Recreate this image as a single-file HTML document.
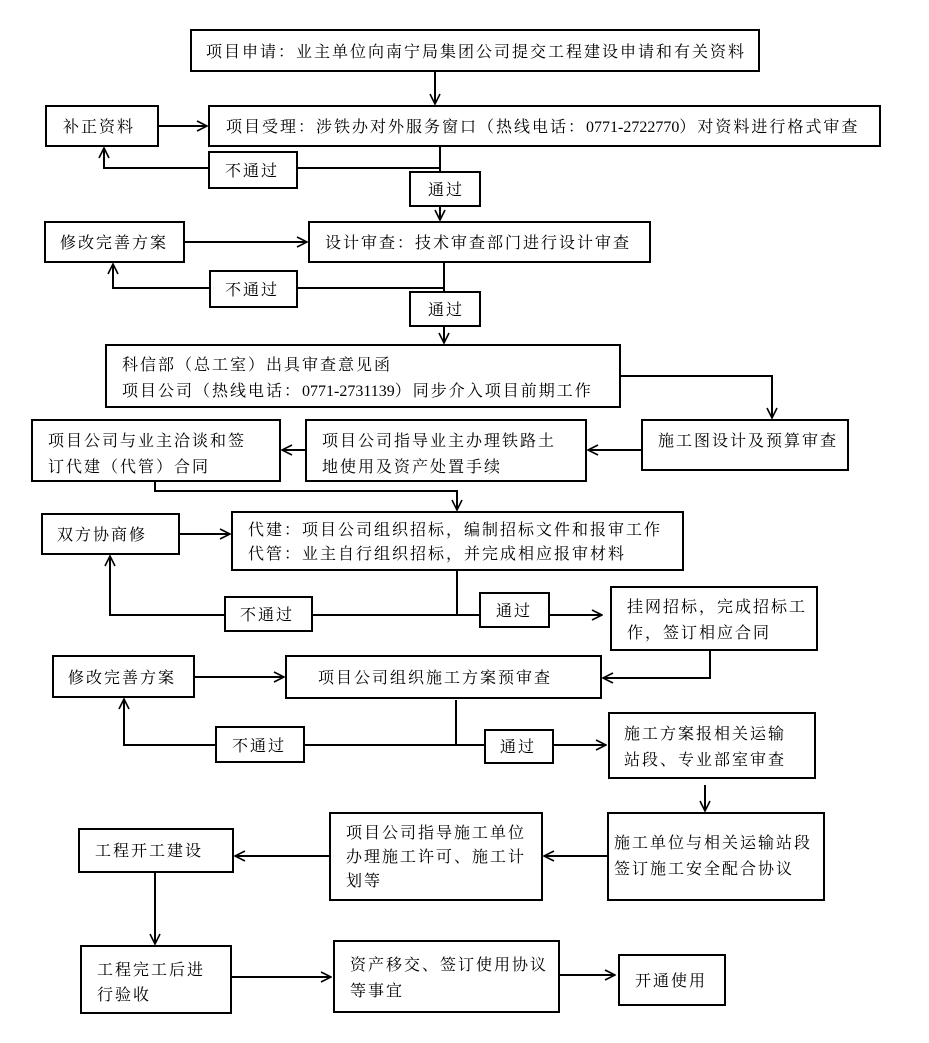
<!DOCTYPE html>
<html><head><meta charset="utf-8"><style>
html,body{margin:0;padding:0;background:#fff;}
svg{display:block;}
text{font-family:"Liberation Serif","Noto Serif CJK SC",serif;font-size:16px;fill:#000;letter-spacing:2px;}
tspan.d{letter-spacing:0px;}
</style></head><body>
<svg width="929" height="1043" viewBox="0 0 929 1043" xmlns="http://www.w3.org/2000/svg">
<defs>
<marker id="a" viewBox="0 0 12 12" refX="11" refY="6" markerWidth="12" markerHeight="12" markerUnits="userSpaceOnUse" orient="auto">
<polyline points="1,1 11,6 1,11" fill="none" stroke="#000" stroke-width="1.6"/>
</marker>
</defs>
<g fill="#fff" stroke="#000" stroke-width="2">
<rect x="191" y="30" width="568" height="41"/>
<rect x="46" y="106" width="112" height="40"/>
<rect x="209" y="106" width="671" height="40"/>
<rect x="209" y="152" width="88" height="36"/>
<rect x="410" y="172" width="70" height="34"/>
<rect x="45" y="222" width="139" height="40"/>
<rect x="309" y="222" width="341" height="40"/>
<rect x="210" y="271" width="87" height="36"/>
<rect x="410" y="292" width="70" height="34"/>
<rect x="106" y="345" width="514" height="62"/>
<rect x="642" y="420" width="206" height="50"/>
<rect x="306" y="420" width="280" height="61"/>
<rect x="32" y="420" width="248" height="61"/>
<rect x="232" y="512" width="451" height="58"/>
<rect x="42" y="514" width="137" height="40"/>
<rect x="225" y="597" width="87" height="34"/>
<rect x="480" y="593" width="69" height="34"/>
<rect x="611" y="587" width="206" height="63"/>
<rect x="53" y="656" width="141" height="41"/>
<rect x="286" y="656" width="315" height="42"/>
<rect x="216" y="727" width="88" height="35"/>
<rect x="485" y="730" width="68" height="33"/>
<rect x="609" y="713" width="206" height="65"/>
<rect x="608" y="813" width="216" height="87"/>
<rect x="330" y="813" width="212" height="87"/>
<rect x="79" y="829" width="154" height="43"/>
<rect x="81" y="946" width="150" height="67"/>
<rect x="334" y="941" width="225" height="71"/>
<rect x="619" y="955" width="106" height="50"/>
</g>
<g fill="none" stroke="#000" stroke-width="2">
<line x1="435" y1="71" x2="435" y2="104" marker-end="url(#a)"/>
<line x1="158" y1="126" x2="207" y2="126" marker-end="url(#a)"/>
<polyline points="440,146 440,168 297,168"/>
<polyline points="209,168 104,168 104,148" marker-end="url(#a)"/>
<line x1="440" y1="168" x2="440" y2="172"/>
<line x1="440" y1="206" x2="440" y2="220" marker-end="url(#a)"/>
<line x1="184" y1="242" x2="307" y2="242" marker-end="url(#a)"/>
<polyline points="444,262 444,288 297,288"/>
<polyline points="210,288 113,288 113,264" marker-end="url(#a)"/>
<line x1="444" y1="288" x2="444" y2="292"/>
<line x1="444" y1="326" x2="444" y2="343" marker-end="url(#a)"/>
<polyline points="620,376 772,376 772,418" marker-end="url(#a)"/>
<line x1="642" y1="450" x2="588" y2="450" marker-end="url(#a)"/>
<line x1="306" y1="450" x2="282" y2="450" marker-end="url(#a)"/>
<polyline points="155,481 155,491 457,491 457,510" marker-end="url(#a)"/>
<line x1="179" y1="534" x2="230" y2="534" marker-end="url(#a)"/>
<polyline points="457,570 457,615 312,615"/>
<polyline points="225,615 110,615 110,556" marker-end="url(#a)"/>
<line x1="457" y1="615" x2="480" y2="615"/>
<line x1="549" y1="615" x2="602" y2="615" marker-end="url(#a)"/>
<polyline points="710,650 710,678 603,678" marker-end="url(#a)"/>
<line x1="194" y1="677" x2="284" y2="677" marker-end="url(#a)"/>
<polyline points="456,700 456,745 304,745"/>
<polyline points="216,745 124,745 124,699" marker-end="url(#a)"/>
<line x1="456" y1="745" x2="485" y2="745"/>
<line x1="553" y1="745" x2="606" y2="745" marker-end="url(#a)"/>
<line x1="705" y1="785" x2="705" y2="811" marker-end="url(#a)"/>
<line x1="608" y1="856" x2="544" y2="856" marker-end="url(#a)"/>
<line x1="330" y1="856" x2="235" y2="856" marker-end="url(#a)"/>
<line x1="155" y1="872" x2="155" y2="944" marker-end="url(#a)"/>
<line x1="231" y1="977" x2="331" y2="977" marker-end="url(#a)"/>
<line x1="559" y1="975" x2="615" y2="975" marker-end="url(#a)"/>
</g>
<g>
<text x="206" y="57">项目申请：业主单位向南宁局集团公司提交工程建设申请和有关资料</text>
<text x="63" y="132">补正资料</text>
<text x="226" y="132">项目受理：涉铁办对外服务窗口（热线电话：<tspan class="d">0771-2722770</tspan>）对资料进行格式审查</text>
<text x="225" y="176">不通过</text>
<text x="428" y="195">通过</text>
<text x="60" y="248">修改完善方案</text>
<text x="325" y="248">设计审查：技术审查部门进行设计审查</text>
<text x="225" y="295">不通过</text>
<text x="428" y="315">通过</text>
<text x="122" y="370">科信部（总工室）出具审查意见函</text>
<text x="122" y="396">项目公司（热线电话：<tspan class="d">0771-2731139</tspan>）同步介入项目前期工作</text>
<text x="658" y="446">施工图设计及预算审查</text>
<text x="322" y="446">项目公司指导业主办理铁路土</text>
<text x="322" y="472">地使用及资产处置手续</text>
<text x="48" y="446">项目公司与业主洽谈和签</text>
<text x="48" y="472">订代建（代管）合同</text>
<text x="248" y="535">代建：项目公司组织招标，编制招标文件和报审工作</text>
<text x="248" y="559">代管：业主自行组织招标，并完成相应报审材料</text>
<text x="57" y="540">双方协商修</text>
<text x="240" y="620">不通过</text>
<text x="496" y="616">通过</text>
<text x="627" y="612">挂网招标，完成招标工</text>
<text x="627" y="638">作，签订相应合同</text>
<text x="68" y="683">修改完善方案</text>
<text x="318" y="683">项目公司组织施工方案预审查</text>
<text x="232" y="751">不通过</text>
<text x="500" y="752">通过</text>
<text x="624" y="739">施工方案报相关运输</text>
<text x="624" y="765">站段、专业部室审查</text>
<text x="614" y="848">施工单位与相关运输站段</text>
<text x="614" y="874">签订施工安全配合协议</text>
<text x="346" y="838">项目公司指导施工单位</text>
<text x="346" y="862">办理施工许可、施工计</text>
<text x="346" y="886">划等</text>
<text x="95" y="856">工程开工建设</text>
<text x="97" y="975">工程完工后进</text>
<text x="97" y="1000">行验收</text>
<text x="350" y="970">资产移交、签订使用协议</text>
<text x="350" y="996">等事宜</text>
<text x="635" y="986">开通使用</text>
</g>
</svg>
</body></html>
